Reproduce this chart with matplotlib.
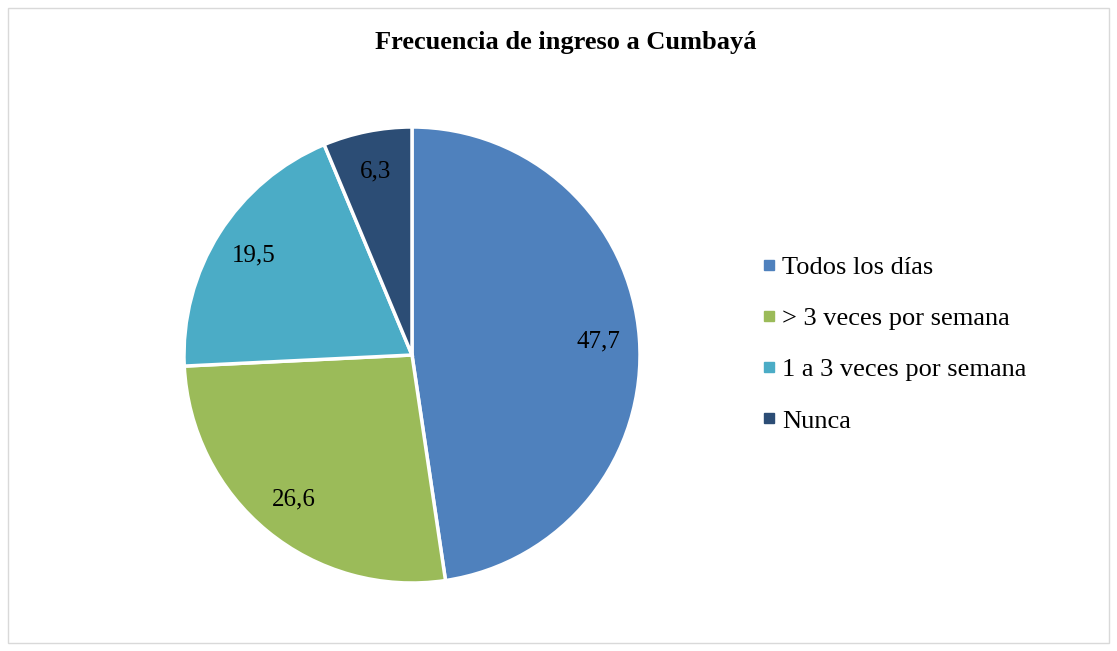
import matplotlib.pyplot as plt
from matplotlib.lines import Line2D
from matplotlib.patches import Rectangle

plt.rcParams['font.family'] = ['Liberation Serif', 'DejaVu Serif']

categories = ['Todos los días', '> 3 veces por semana', '1 a 3 veces por semana', 'Nunca']
values = [47.7, 26.6, 19.5, 6.3]
colors = ['#4F81BD', '#9BBB59', '#4BACC6', '#2C4D75']

W, H = 1117, 651
fig = plt.figure(figsize=(W / 100, H / 100), dpi=100)

# light frame round the chart area
fig.patches.append(Rectangle((8 / W, 8 / H), 1101 / W, 635 / H, transform=fig.transFigure,
                             fill=False, edgecolor='#D9D9D9', linewidth=1))

cx, cy, r = 412, 355, 228
ax = fig.add_axes([(cx - r) / W, (H - cy - r) / H, 2 * r / W, 2 * r / H])
wedges, texts, autotexts = ax.pie(values, colors=colors, startangle=90, counterclock=False,
                                  autopct=lambda p: '', pctdistance=0.82,
                                  wedgeprops=dict(edgecolor='white', linewidth=2.5))
for t, v in zip(autotexts, values):
    t.set_text(f'{v:.1f}'.replace('.', ','))
    t.set_fontsize(18)
ax.set_xlim(-1, 1)
ax.set_ylim(-1, 1)
ax.set_aspect('equal')

fig.text(566 / W, 1 - 43 / H, 'Frecuencia de ingreso a Cumbayá', ha='center', va='center',
         fontsize=19, fontweight='bold')

handles = [Line2D([], [], marker='s', linestyle='', color=c, markersize=6.5) for c in colors]
fig.legend(handles, categories, loc='center left', bbox_to_anchor=(762 / W, 1 - 344 / H),
           frameon=False, fontsize=19, handlelength=0.5, handletextpad=0.25,
           labelspacing=1.05, borderaxespad=0, borderpad=0)

fig.savefig('out.png', dpi=100)
